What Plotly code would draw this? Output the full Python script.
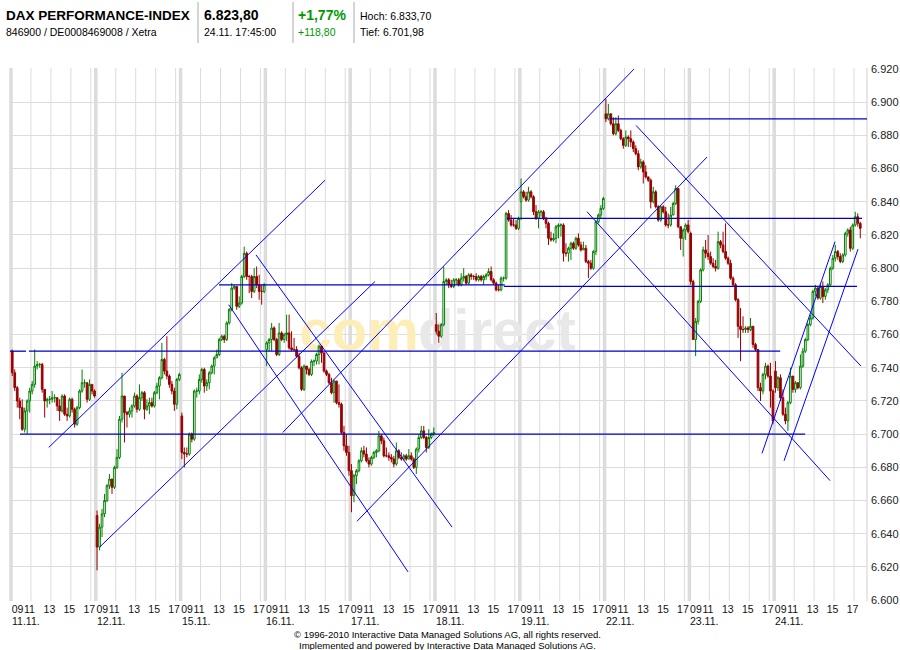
import plotly.graph_objects as go

# ---------------- data ----------------
DAY_LABELS = ["11.11.", "12.11.", "15.11.", "16.11.", "17.11.",
              "18.11.", "19.11.", "22.11.", "23.11.", "24.11."]
HOUR_TICKS = [9, 11, 13, 15, 17]
HOUR_LABELS = ["09", "11", "13", "15", "17"]
PRICE_TICKS = [6600, 6620, 6640, 6660, 6680, 6700, 6720, 6740, 6760,
               6780, 6800, 6820, 6840, 6860, 6880, 6900, 6920]

SESSION_START = 9.0     # 09:00
SESSION_LEN = 8.5       # 09:00 - 17:30
BAR_LEN = 0.25          # 15-minute candles

first_open = [6750, 6651, 6711, 6751, 6678, 6766, 6840, 6893, 6821, 6738]

close_1111 = [6737, 6728, 6720, 6716, 6703, 6714, 6720, 6726, 6730, 6741, 6742, 6742, 6727, 6720, 6721, 6721, 6722,
              6722, 6717, 6714, 6723, 6712, 6711, 6721, 6715, 6706, 6716, 6726, 6731, 6731, 6721, 6730, 6726, 6723]
high_1111 = [6751, 6739, 6729, 6722, 6721, 6716, 6721, 6728, 6732, 6751, 6744, 6743, 6743, 6727, 6722, 6723, 6726,
             6724, 6722, 6721, 6724, 6724, 6716, 6722, 6722, 6716, 6717, 6727, 6739, 6733, 6731, 6733, 6730, 6727]
low_1111 = [6735, 6726, 6716, 6709, 6702, 6701, 6700, 6713, 6724, 6728, 6739, 6740, 6725, 6710, 6716, 6718, 6719,
            6719, 6714, 6708, 6713, 6711, 6708, 6710, 6713, 6704, 6705, 6715, 6725, 6728, 6719, 6720, 6724, 6722]

close_1211 = [6632, 6644, 6652, 6660, 6669, 6673, 6668, 6680, 6686, 6709, 6723, 6713, 6712, 6714, 6717, 6723, 6715,
              6722, 6725, 6715, 6717, 6719, 6717, 6725, 6729, 6734, 6745, 6738, 6735, 6730, 6726, 6718, 6733, 6736]
high_1211 = [6654, 6646, 6655, 6664, 6670, 6676, 6673, 6681, 6691, 6711, 6737, 6723, 6714, 6716, 6718, 6725, 6724,
             6730, 6726, 6726, 6721, 6722, 6722, 6726, 6731, 6735, 6755, 6746, 6759, 6736, 6732, 6728, 6734, 6737]
low_1211 = [6618, 6630, 6638, 6650, 6659, 6667, 6664, 6667, 6679, 6685, 6707, 6695, 6704, 6710, 6710, 6716, 6713,
            6714, 6720, 6709, 6714, 6712, 6716, 6716, 6724, 6721, 6733, 6736, 6733, 6728, 6724, 6714, 6715, 6732]

close_1511 = [6689, 6688, 6688, 6700, 6697, 6726, 6726, 6733, 6739, 6729, 6731, 6737, 6741, 6746, 6748, 6757, 6759,
              6757, 6767, 6775, 6788, 6789, 6777, 6779, 6795, 6809, 6795, 6795, 6786, 6795, 6790, 6786, 6786, 6790]
high_1511 = [6713, 6692, 6692, 6701, 6701, 6727, 6728, 6736, 6740, 6740, 6733, 6738, 6742, 6747, 6751, 6758, 6760,
             6760, 6768, 6776, 6791, 6790, 6789, 6783, 6796, 6813, 6810, 6796, 6796, 6800, 6801, 6796, 6790, 6791]
low_1511 = [6685, 6680, 6686, 6687, 6695, 6696, 6722, 6724, 6731, 6725, 6726, 6727, 6736, 6736, 6746, 6747, 6756,
            6755, 6756, 6766, 6774, 6787, 6775, 6776, 6778, 6794, 6793, 6785, 6782, 6785, 6788, 6781, 6778, 6785]

close_1611 = [6755, 6757, 6764, 6757, 6748, 6761, 6757, 6760, 6761, 6752, 6751, 6751, 6747, 6740, 6727, 6741, 6739,
              6736, 6744, 6744, 6748, 6753, 6749, 6738, 6736, 6731, 6725, 6732, 6719, 6718, 6701, 6693, 6689, 6678]
high_1611 = [6756, 6758, 6767, 6765, 6758, 6767, 6762, 6761, 6772, 6772, 6762, 6758, 6753, 6749, 6741, 6742, 6741,
             6740, 6745, 6745, 6749, 6754, 6750, 6749, 6739, 6737, 6734, 6733, 6731, 6730, 6719, 6705, 6700, 6693]
low_1611 = [6741, 6750, 6750, 6756, 6747, 6747, 6756, 6755, 6756, 6751, 6750, 6750, 6746, 6739, 6726, 6726, 6736,
            6735, 6735, 6741, 6742, 6742, 6743, 6737, 6735, 6730, 6724, 6719, 6718, 6716, 6700, 6690, 6687, 6675]

close_1711 = [6663, 6675, 6678, 6684, 6690, 6688, 6684, 6682, 6686, 6689, 6690, 6699, 6696, 6687, 6687, 6686, 6685,
              6682, 6690, 6686, 6685, 6687, 6685, 6687, 6685, 6680, 6691, 6698, 6702, 6698, 6692, 6698, 6700, 6701]
high_1711 = [6682, 6676, 6679, 6685, 6692, 6693, 6692, 6686, 6687, 6690, 6691, 6702, 6700, 6698, 6692, 6689, 6688,
             6687, 6695, 6691, 6689, 6688, 6688, 6691, 6689, 6686, 6692, 6700, 6705, 6705, 6699, 6703, 6701, 6704]
low_1711 = [6653, 6659, 6670, 6677, 6683, 6686, 6683, 6680, 6681, 6685, 6686, 6689, 6694, 6686, 6686, 6684, 6683,
            6680, 6681, 6685, 6684, 6684, 6684, 6685, 6684, 6679, 6676, 6689, 6697, 6697, 6689, 6691, 6697, 6699]

close_1811 = [6762, 6759, 6766, 6792, 6793, 6790, 6789, 6793, 6793, 6790, 6794, 6795, 6791, 6796, 6795, 6795, 6793,
              6795, 6793, 6795, 6796, 6798, 6793, 6791, 6787, 6787, 6794, 6794, 6833, 6829, 6826, 6826, 6824, 6830]
high_1811 = [6773, 6766, 6767, 6801, 6794, 6794, 6793, 6794, 6794, 6794, 6797, 6800, 6796, 6797, 6797, 6796, 6797,
             6796, 6796, 6796, 6797, 6800, 6801, 6794, 6792, 6790, 6795, 6795, 6834, 6835, 6832, 6830, 6829, 6831]
low_1811 = [6760, 6755, 6758, 6765, 6790, 6788, 6788, 6788, 6790, 6789, 6789, 6792, 6790, 6790, 6793, 6793, 6792,
            6792, 6792, 6790, 6793, 6795, 6792, 6790, 6786, 6786, 6786, 6792, 6793, 6828, 6825, 6825, 6823, 6823]

close_1911 = [6846, 6843, 6841, 6846, 6843, 6834, 6830, 6834, 6834, 6830, 6827, 6818, 6817, 6818, 6825, 6826, 6826,
              6809, 6809, 6812, 6815, 6812, 6818, 6814, 6811, 6812, 6804, 6803, 6800, 6810, 6828, 6832, 6836, 6842]
high_1911 = [6854, 6847, 6846, 6849, 6847, 6844, 6838, 6835, 6835, 6835, 6831, 6828, 6822, 6821, 6826, 6827, 6827,
             6827, 6815, 6813, 6816, 6816, 6819, 6821, 6816, 6816, 6814, 6805, 6805, 6811, 6829, 6833, 6838, 6843]
low_1911 = [6829, 6842, 6840, 6840, 6842, 6832, 6829, 6824, 6831, 6829, 6824, 6814, 6816, 6816, 6815, 6818, 6819,
            6804, 6807, 6804, 6805, 6811, 6811, 6813, 6810, 6811, 6803, 6794, 6799, 6799, 6808, 6827, 6830, 6835]

close_2211 = [6890, 6893, 6887, 6881, 6887, 6883, 6878, 6874, 6879, 6878, 6876, 6872, 6869, 6861, 6864, 6858, 6855,
              6853, 6840, 6846, 6837, 6829, 6837, 6834, 6826, 6826, 6832, 6839, 6848, 6825, 6818, 6823, 6826, 6822]
high_2211 = [6902, 6899, 6893, 6891, 6891, 6892, 6884, 6879, 6883, 6880, 6883, 6877, 6874, 6871, 6866, 6865, 6862,
             6855, 6854, 6849, 6847, 6838, 6838, 6838, 6837, 6833, 6837, 6840, 6850, 6847, 6825, 6824, 6827, 6829]
low_2211 = [6888, 6889, 6886, 6880, 6880, 6882, 6877, 6872, 6873, 6873, 6873, 6870, 6868, 6859, 6860, 6851, 6854,
            6852, 6836, 6839, 6836, 6828, 6828, 6833, 6825, 6824, 6825, 6832, 6838, 6824, 6811, 6807, 6817, 6821]

close_2311 = [6792, 6757, 6768, 6780, 6799, 6811, 6809, 6807, 6803, 6801, 6800, 6816, 6814, 6810, 6806, 6803, 6794,
              6790, 6781, 6765, 6763, 6763, 6764, 6763, 6765, 6754, 6751, 6728, 6726, 6736, 6741, 6735, 6726, 6708]
high_2311 = [6822, 6793, 6770, 6781, 6800, 6813, 6817, 6820, 6810, 6806, 6805, 6822, 6817, 6822, 6827, 6807, 6805,
             6795, 6791, 6782, 6776, 6771, 6765, 6765, 6770, 6765, 6755, 6751, 6731, 6737, 6743, 6742, 6743, 6727]
low_2311 = [6790, 6757, 6747, 6766, 6779, 6798, 6806, 6805, 6802, 6800, 6798, 6799, 6812, 6809, 6805, 6802, 6793,
            6789, 6780, 6758, 6744, 6761, 6761, 6761, 6762, 6752, 6750, 6726, 6720, 6724, 6733, 6734, 6716, 6706]

close_2411 = [6728, 6734, 6722, 6712, 6708, 6719, 6735, 6727, 6731, 6728, 6741, 6750, 6757, 6766, 6770, 6786, 6788,
              6782, 6789, 6783, 6787, 6790, 6800, 6806, 6810, 6807, 6804, 6808, 6821, 6823, 6812, 6826, 6831, 6827, 6824]
high_2411 = [6744, 6735, 6736, 6727, 6716, 6720, 6740, 6735, 6732, 6731, 6748, 6752, 6758, 6767, 6772, 6787, 6790,
             6789, 6791, 6792, 6788, 6791, 6801, 6808, 6814, 6811, 6809, 6809, 6822, 6824, 6825, 6827, 6834, 6833, 6828]
low_2411 = [6725, 6726, 6720, 6711, 6706, 6702, 6718, 6725, 6725, 6727, 6727, 6740, 6749, 6756, 6765, 6769, 6783,
            6781, 6781, 6779, 6781, 6785, 6789, 6799, 6804, 6805, 6803, 6803, 6807, 6819, 6810, 6811, 6825, 6825, 6818]

# drawn support / resistance lines: (day_from, hour_from, day_to, hour_to, price)
h_lines = [
    (0, 8.9, 0, 10.5, 6750),
    (0, 10.8, 9, 9.6, 6750),
    (0, 9.9, 9, 12.1, 6700),
    (2, 12.85, 5, 16.0, 6790),
    (5, 15.9, 9, 17.3, 6789),
    (5, 16.2, 9, 17.8, 6830),
    (7, 9.5, 9, 18.3, 6890),
]
# drawn trend lines: (day_from, hour_from, price_from, day_to, hour_to, price_to)
d_lines = [
    (0, 12.78, 6692, 3, 14.98, 6853),
    (1, 9.39, 6632, 4, 11.49, 6792),
    (3, 10.74, 6701, 7, 11.95, 6920),
    (4, 9.68, 6647.5, 8, 10.77, 6867),
    (2, 13.82, 6778, 4, 14.8, 6617),
    (2, 16.56, 6808, 5, 10.71, 6644),
    (7, 12.15, 6886, 9, 17.7, 6741),
    (6, 15.74, 6834, 9, 14.6, 6672),
    (8, 16.28, 6688.5, 9, 15.1, 6816),
    (9, 9.99, 6684, 9, 17.4, 6811.5),
]

# ---------------- build ----------------
day_close = [close_1111, close_1211, close_1511, close_1611, close_1711,
             close_1811, close_1911, close_2211, close_2311, close_2411]
day_high = [high_1111, high_1211, high_1511, high_1611, high_1711,
            high_1811, high_1911, high_2211, high_2311, high_2411]
day_low = [low_1111, low_1211, low_1511, low_1611, low_1711,
           low_1811, low_1911, low_2211, low_2311, low_2411]


def tx(day, hour):
    return day * SESSION_LEN + (hour - SESSION_START)


xs, O, H, L, C = [], [], [], [], []
for d in range(len(DAY_LABELS)):
    prev = first_open[d]
    for k, (cl, hi, lo) in enumerate(zip(day_close[d], day_high[d], day_low[d])):
        xs.append(d * SESSION_LEN + BAR_LEN * k + BAR_LEN / 2)
        O.append(prev)
        C.append(cl)
        H.append(max(hi, prev, cl))
        L.append(min(lo, prev, cl))
        prev = cl

FONT = "Arial, Liberation Sans, sans-serif"
GRID = "#dcdcdc"

fig = go.Figure()
fig.add_trace(go.Candlestick(
    x=xs, open=O, high=H, low=L, close=C,
    increasing=dict(line=dict(color="#008000", width=1), fillcolor="#ffffff"),
    decreasing=dict(line=dict(color="#990000", width=1), fillcolor="#990000"),
    whiskerwidth=0, hoverinfo="skip", showlegend=False,
))

shapes = []
# vertical grid: thick day separators and thin hour lines
for d in range(len(DAY_LABELS)):
    for hr in HOUR_TICKS:
        thick = hr == HOUR_TICKS[0]
        shapes.append(dict(type="line", xref="x", yref="paper",
                           x0=tx(d, hr), x1=tx(d, hr), y0=0, y1=1,
                           line=dict(color=GRID, width=3.5 if thick else 1),
                           layer="below"))
# right border
shapes.append(dict(type="line", xref="paper", yref="paper", x0=1, x1=1, y0=0, y1=1,
                   line=dict(color="#cfcfcf", width=1), layer="below"))

# watermark (behind the candles)
wm_y = 6766
shapes.append(dict(type="rect", xref="x", yref="y", x0=tx(4, 9.9) - 5, x1=tx(4, 9.9) + 5,
                   y0=wm_y - 12, y1=wm_y + 12, line=dict(width=0, color="rgba(0,0,0,0)"),
                   fillcolor="rgba(0,0,0,0)", layer="between",
                   label=dict(text="com", textposition="middle center",
                              font=dict(family=FONT, size=58, color="#fdeeb8", weight="bold"))))
shapes.append(dict(type="rect", xref="x", yref="y", x0=tx(5, 15.2) - 6, x1=tx(5, 15.2) + 6,
                   y0=wm_y - 12, y1=wm_y + 12, line=dict(width=0, color="rgba(0,0,0,0)"),
                   fillcolor="rgba(0,0,0,0)", layer="between",
                   label=dict(text="direct", textposition="middle center",
                              font=dict(family=FONT, size=58, color="#e8e8e8", weight="bold"))))

for d0, h0, d1, h1, p in h_lines:
    shapes.append(dict(type="line", xref="x", yref="y", x0=tx(d0, h0), x1=tx(d1, h1),
                       y0=p, y1=p, line=dict(color="#0000c8", width=1.3), layer="above"))
for d0, h0, p0, d1, h1, p1 in d_lines:
    shapes.append(dict(type="line", xref="x", yref="y", x0=tx(d0, h0), x1=tx(d1, h1),
                       y0=p0, y1=p1, line=dict(color="#0000ff", width=1), layer="above"))

# tick positions (the 09 label sits just right of the day separator)
tickvals, ticktext = [], []
for d in range(len(DAY_LABELS)):
    for hr, lab in zip(HOUR_TICKS, HOUR_LABELS):
        tickvals.append(tx(d, hr) + (0.65 if hr == HOUR_TICKS[0] else -0.15))
        ticktext.append(lab)

price_text = [f"{v:,}".replace(",", ".") for v in PRICE_TICKS]

# layout geometry
W, Hh = 900, 650
ML, MR, MT, MB = 9, 33, 68, 49
PW, PH = W - ML - MR, Hh - MT - MB


def px_x(p):
    return (p - ML) / PW


def px_y(p):
    return (Hh - MB - p) / PH


annotations = []
for d, lab in enumerate(DAY_LABELS):
    annotations.append(dict(x=tx(d, 9) - 0.1, xref="x", y=px_y(621), yref="paper",
                            text=lab, showarrow=False, xanchor="left", yanchor="middle",
                            font=dict(family=FONT, size=10.5, color="#111")))

header = [
    (4, 15, "<b>DAX PERFORMANCE-INDEX</b>", 13.5, "#000"),
    (4, 32, "846900 / DE0008469008 / Xetra", 10.5, "#000"),
    (202, 15, "<b>6.823,80</b>", 14, "#000"),
    (202, 32, "24.11. 17:45:00", 10.5, "#000"),
    (296, 15, "<b>+1,77%</b>", 14, "#009900"),
    (296, 32, "+118,80", 10.5, "#009900"),
    (358, 16, "Hoch: 6.833,70", 10.5, "#000"),
    (358, 32, "Tief: 6.701,98", 10.5, "#000"),
]
for xp, yp, txt, sz, col in header:
    annotations.append(dict(x=px_x(xp), y=px_y(yp), xref="paper", yref="paper", text=txt,
                            showarrow=False, xanchor="left", yanchor="middle",
                            font=dict(family=FONT, size=sz, color=col)))
for xp in (198, 293, 354):
    shapes.append(dict(type="line", xref="paper", yref="paper", x0=px_x(xp), x1=px_x(xp),
                       y0=px_y(2), y1=px_y(43), line=dict(color="#aaaaaa", width=1)))

annotations.append(dict(x=px_x(447), y=px_y(634), xref="paper", yref="paper",
                        text="© 1996-2010 Interactive Data Managed Solutions AG, all rights reserved.",
                        showarrow=False, xanchor="center", yanchor="middle",
                        font=dict(family=FONT, size=9.5, color="#000")))
annotations.append(dict(x=px_x(447), y=px_y(645), xref="paper", yref="paper",
                        text="Implemented and powered by Interactive Data Managed Solutions AG.",
                        showarrow=False, xanchor="center", yanchor="middle",
                        font=dict(family=FONT, size=9.5, color="#000")))

fig.update_layout(
    width=W, height=Hh,
    margin=dict(l=ML, r=MR, t=MT, b=MB, pad=0, autoexpand=False),
    paper_bgcolor="white", plot_bgcolor="white",
    separators=",.",
    boxgap=0.05,
    font=dict(family=FONT, size=11, color="#222"),
    showlegend=False,
    shapes=shapes, annotations=annotations,
    xaxis=dict(range=[-0.2, 85.8], showgrid=False, zeroline=False, showline=False,
               tickmode="array", tickvals=tickvals, ticktext=ticktext, ticks="",
               tickangle=0, automargin=False,
               tickfont=dict(family=FONT, size=10.5, color="#111"),
               rangeslider=dict(visible=False), fixedrange=True),
    yaxis=dict(range=[6599.5, 6920.6], side="right", tickmode="array", tickvals=PRICE_TICKS,
               ticktext=price_text, showgrid=True, gridcolor=GRID, gridwidth=1, zeroline=False,
               showline=False, ticks="", ticklabelstandoff=3, automargin=False,
               tickfont=dict(family=FONT, size=11, color="#222"), fixedrange=True),
)

fig.write_html("out.html",
               config={"displayModeBar": False, "staticPlot": True},
               post_script="document.body.style.margin='0px';document.body.style.padding='0px';")
